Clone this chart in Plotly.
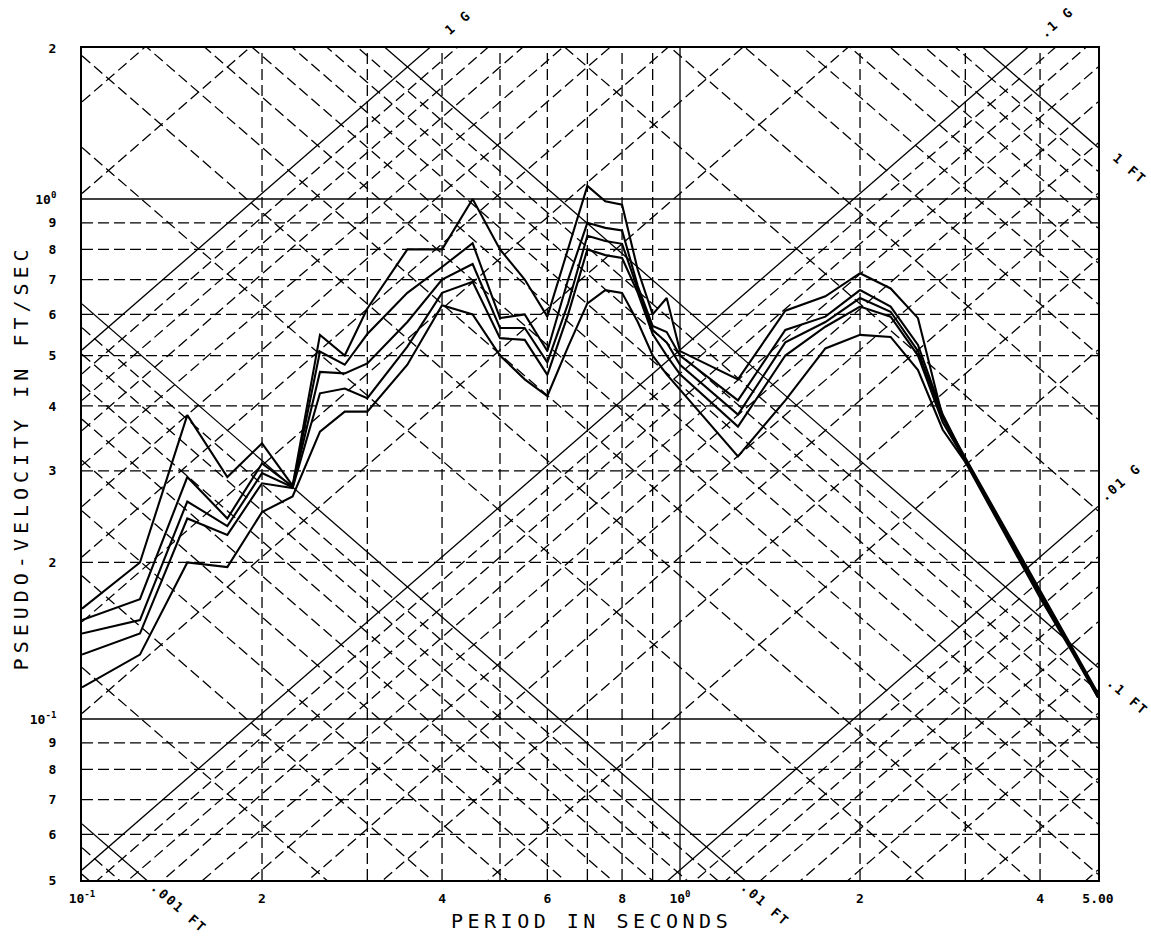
import numpy as np
import plotly.graph_objects as go

# ---------------- data ----------------
period = [0.1, 0.125, 0.15, 0.175, 0.2, 0.225, 0.25, 0.275, 0.3,
          0.35, 0.4, 0.45, 0.5, 0.55, 0.6, 0.65, 0.7, 0.75, 0.8, 0.85, 0.9, 0.95, 1.0,
          1.25, 1.5, 1.75, 2.0, 2.25, 2.5, 2.75, 3.0, 3.5, 4.0, 4.5, 5.0]

psv_1 = [0.163, 0.200, 0.384, 0.292, 0.339, 0.281, 0.548, 0.500, 0.616,
         0.800, 0.800, 1.000, 0.800, 0.700, 0.594, 0.800, 1.060, 0.990, 0.975, 0.730, 0.600, 0.645, 0.510,
         0.450, 0.610, 0.650, 0.720, 0.673, 0.590, 0.380, 0.318, 0.232, 0.176, 0.139, 0.112]
psv_2 = [0.155, 0.170, 0.292, 0.243, 0.310, 0.280, 0.509, 0.480, 0.550,
         0.660, 0.740, 0.822, 0.590, 0.600, 0.510, 0.700, 0.900, 0.880, 0.870, 0.680, 0.570, 0.555, 0.500,
         0.410, 0.560, 0.594, 0.668, 0.621, 0.524, 0.385, 0.316, 0.230, 0.175, 0.138, 0.111]
psv_3 = [0.146, 0.155, 0.262, 0.235, 0.297, 0.279, 0.465, 0.462, 0.483,
         0.580, 0.700, 0.750, 0.565, 0.565, 0.485, 0.630, 0.850, 0.830, 0.820, 0.670, 0.560, 0.530, 0.480,
         0.385, 0.530, 0.580, 0.645, 0.607, 0.510, 0.380, 0.315, 0.229, 0.174, 0.138, 0.111]
psv_4 = [0.133, 0.146, 0.243, 0.226, 0.284, 0.278, 0.423, 0.432, 0.414,
         0.520, 0.660, 0.693, 0.540, 0.536, 0.459, 0.600, 0.800, 0.780, 0.770, 0.660, 0.550, 0.500, 0.460,
         0.365, 0.500, 0.568, 0.621, 0.594, 0.500, 0.372, 0.314, 0.228, 0.173, 0.137, 0.110]
psv_5 = [0.115, 0.133, 0.200, 0.196, 0.250, 0.268, 0.357, 0.390, 0.390,
         0.480, 0.625, 0.600, 0.500, 0.450, 0.418, 0.520, 0.630, 0.668, 0.660, 0.580, 0.500, 0.460, 0.430,
         0.320, 0.410, 0.516, 0.548, 0.543, 0.469, 0.360, 0.312, 0.226, 0.171, 0.136, 0.110]
curves = [psv_1, psv_2, psv_3, psv_4, psv_5]

# axis extents
T_MIN, T_MAX = 0.1, 5.0
Y_LOG_RANGE = [-1.3096, 0.2904]
V_MIN, V_MAX = 10 ** Y_LOG_RANGE[0], 10 ** Y_LOG_RANGE[1]

# grid values
x_grid_dashed = [0.2, 0.3, 0.4, 0.5, 0.6, 0.7, 0.8, 0.9, 2.0, 3.0, 4.0]
x_grid_solid = [1.0]
y_grid_dashed = [0.06, 0.07, 0.08, 0.09, 0.2, 0.3, 0.4, 0.5, 0.6, 0.7, 0.8, 0.9]
y_grid_solid = [0.1, 1.0]
multipliers = [1, 2, 3, 4, 5, 6, 7, 8, 9]
acc_decades_g = [0.001, 0.01, 0.1, 1.0]          # acceleration lines, in g
disp_decades_ft = [0.0001, 0.001, 0.01, 0.1, 1.0]  # displacement lines, in ft
G_FT = 32.2

x_tickvals = [0.1, 0.2, 0.4, 0.6, 0.8, 1.0, 2.0, 4.0, 5.0]
x_ticktext = ["10<sup>-1</sup>", "2", "4", "6", "8", "10<sup>0</sup>", "2", "4", "5.00"]
y_tickvals = [V_MIN, 0.06, 0.07, 0.08, 0.09, 0.1, 0.2, 0.3, 0.4, 0.5, 0.6, 0.7, 0.8, 0.9, 1.0, V_MAX]
y_ticktext = ["5", "6", "7", "8", "9", "10<sup>-1</sup>", "2", "3", "4", "5", "6", "7", "8", "9",
              "10<sup>0</sup>", "2"]

# ---------------- build ----------------
DASH = "11px,5px"
GRID_W = 1.3


def seg_trace(xs, ys, dash):
    return go.Scatter(x=xs, y=ys, mode="lines", hoverinfo="skip",
                      line=dict(color="black", width=GRID_W, dash=dash))


fig = go.Figure()

# straight grid
for vals, dash in ((x_grid_dashed, DASH), (x_grid_solid, "solid")):
    xs, ys = [], []
    for v in vals:
        xs += [v, v, None]
        ys += [V_MIN, V_MAX, None]
    fig.add_trace(seg_trace(xs, ys, dash))
for vals, dash in ((y_grid_dashed, DASH), (y_grid_solid, "solid")):
    xs, ys = [], []
    for v in vals:
        xs += [T_MIN, T_MAX, None]
        ys += [v, v, None]
    fig.add_trace(seg_trace(xs, ys, dash))

# diagonal tripartite grid
acc_sets = {"solid": ([], []), DASH: ([], [])}
for dec in acc_decades_g:
    for m in multipliers:
        a = m * dec * G_FT
        key = "solid" if m == 1 else DASH
        acc_sets[key][0].extend([T_MIN, T_MAX, None])
        acc_sets[key][1].extend([a * T_MIN / (2 * np.pi), a * T_MAX / (2 * np.pi), None])
disp_sets = {"solid": ([], []), DASH: ([], [])}
for dec in disp_decades_ft:
    for m in multipliers:
        d = m * dec
        key = "solid" if m == 1 else DASH
        disp_sets[key][0].extend([T_MIN, T_MAX, None])
        disp_sets[key][1].extend([2 * np.pi * d / T_MIN, 2 * np.pi * d / T_MAX, None])
for sets in (acc_sets, disp_sets):
    for dash, (xs, ys) in sets.items():
        fig.add_trace(seg_trace(xs, ys, dash))

# spectra
for c in curves:
    fig.add_trace(go.Scatter(x=period, y=c, mode="lines", hoverinfo="skip",
                             line=dict(color="black", width=2.1)))

TICKFONT = dict(family="DejaVu Sans Mono", size=13, color="black", weight="bold")

fig.update_layout(
    width=1151, height=936,
    margin=dict(l=82, r=53, t=48, b=56),
    paper_bgcolor="white", plot_bgcolor="white",
    showlegend=False,
    hovermode=False,
    xaxis=dict(type="log", range=[np.log10(T_MIN), np.log10(T_MAX)],
               tickvals=x_tickvals, ticktext=x_ticktext, tickfont=TICKFONT,
               showgrid=False, zeroline=False, showline=True, mirror=True,
               linecolor="black", linewidth=2, ticks="", ticklabelstandoff=5),
    yaxis=dict(type="log", range=Y_LOG_RANGE,
               tickvals=y_tickvals, ticktext=y_ticktext, tickfont=TICKFONT,
               showgrid=False, zeroline=False, showline=True, mirror=True,
               linecolor="black", linewidth=2, ticks="", ticklabelstandoff=21),
)

title_font = dict(family="DejaVu Sans Mono", size=20, color="black")
fig.add_annotation(text='<span style="letter-spacing:4.5px">PERIOD IN SECONDS</span>',
                   xref="paper", yref="paper", x=0.501, y=-0.049,
                   xanchor="center", yanchor="middle",
                   showarrow=False, font=title_font)
fig.add_annotation(text='<span style="letter-spacing:5px">PSEUDO-VELOCITY IN FT/SEC</span>',
                   xref="paper", yref="paper", x=-0.060, y=0.508, textangle=-90,
                   xanchor="center", yanchor="middle",
                   showarrow=False, font=title_font)

lab_font = dict(family="DejaVu Sans Mono", size=13, color="black", weight="bold")
diag_labels = [
    ("1 G", 0.370, 1.031, -41),
    (".1 G", 0.959, 1.031, -41),
    ("1 FT", 1.031, 0.855, 41),
    (".01 G", 1.022, 0.478, -41),
    (".1 FT", 1.029, 0.220, 41),
    (".001 FT", 0.0955, -0.0325, 41),
    (".01 FT", 0.673, -0.029, 41),
]
for txt, xp, yp, ang in diag_labels:
    fig.add_annotation(text=f'<span style="letter-spacing:2px">{txt}</span>',
                       xref="paper", yref="paper", x=xp, y=yp, textangle=ang,
                       xanchor="center", yanchor="middle",
                       showarrow=False, font=lab_font)

# remove the default 8 px page margin so the 1151x936 figure fills the window exactly
fig.write_html("out.html",
               config={"displayModeBar": False, "staticPlot": True},
               post_script="document.body.style.margin='0px';"
                           "document.body.style.overflow='hidden';")
